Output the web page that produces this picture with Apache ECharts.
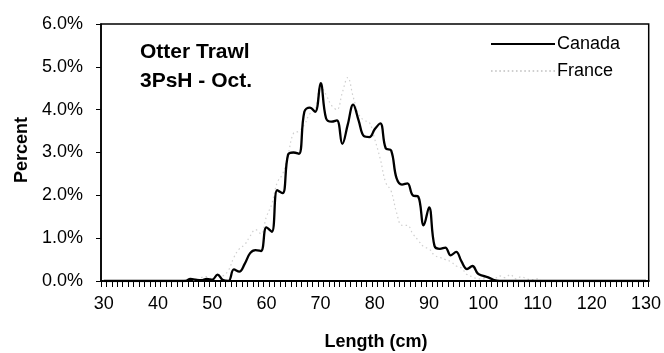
<!DOCTYPE html>
<html>
<head>
<meta charset="utf-8">
<script src="https://cdn.jsdelivr.net/npm/echarts@6/dist/echarts.min.js"></script>
<style>
html,body{margin:0;padding:0;background:#fff;}
#chart{width:664px;height:353px;}
</style>
</head>
<body>
<div id="chart"></div>
<script>
// Length categories (cm)
const lengths = [
  30,31,32,33,34,35,36,37,38,39,40,41,42,43,44,45,46,47,48,49,
  50,51,52,53,54,55,56,57,58,59,60,61,62,63,64,65,66,67,68,69,
  70,71,72,73,74,75,76,77,78,79,80,81,82,83,84,85,86,87,88,89,
  90,91,92,93,94,95,96,97,98,99,100,101,102,103,104,105,106,107,108,109,
  110,111,112,113,114,115,116,117,118,119,120,121,122,123,124,125,126,127,128,129,130
];
// Percent at length, Canada
const canada = [
  0,0,0,0,0,0,0,0,0,0,0,0,0,0,0,
  0,0.05,0.03,0.02,0.05,           // 45-49
  0.03,0.15,0.02,0,0.27,0.22,0.4,0.65,0.72,0.7,   // 50-59
  1.25,1.15,2.12,2.05,2.95,3.0,2.97,3.95,4.05,3.95, // 60-69
  4.62,3.8,3.72,3.75,3.2,3.65,4.12,3.75,3.38,3.36,  // 70-79
  3.55,3.68,3.1,3.05,2.4,2.25,2.28,2.0,1.97,1.3,    // 80-89
  1.72,0.82,0.75,0.78,0.6,0.68,0.45,0.28,0.35,0.17, // 90-99
  0.12,0.08,0.02,                                    // 100-102
  0,0,0,0,0,0,0,0,0,0,0,0,0,0,0,0,0,0,0,0,0,0,0,0,0,0,0,0
];
// Percent at length, France
const france = [
  0,0,0,0,0,0,0,0,0,0,0,0,0,0,0,
  0.02,0.05,0,0.08,0.1,                              // 45-49
  0.05,0.1,0.12,0.25,0.55,0.75,0.85,1.05,1.2,1.1,    // 50-59
  1.5,1.8,2.3,2.5,2.95,3.45,3.5,3.65,3.9,4.0,        // 60-69
  4.55,4.35,4.1,4.0,4.4,4.75,4.3,3.9,3.75,3.7,       // 70-79
  3.3,2.85,2.3,2.1,1.6,1.3,1.3,1.1,0.95,0.8,         // 80-89
  0.75,0.6,0.55,0.5,0.45,0.35,0.3,0.15,0.1,0.05,     // 90-99
  0.05,0.1,0.05,0.12,0.08,0.15,0.05,0.1,0.05,0.03,   // 100-109
  0.05,                                              // 110
  0,0,0,0,0,0,0,0,0,0,0,0,0,0,0,0,0,0,0,0
];
const yTicks = [0,1,2,3,4,5,6];

const FONT = '"Liberation Sans", Arial, sans-serif';
const FRANCE_COLOR = '#cfcfcf';
// legend glyphs: solid bar and dotted bar
const solidIcon = 'path://M0,0L64,0L64,2L0,2Z';
let dotted = '';
for (let i = 0; i < 16; i++) { dotted += 'M' + (i*4) + ',0h1.5v2h-1.5z'; }
const dottedIcon = 'path://' + dotted;

const chart = echarts.init(document.getElementById('chart'), null, {renderer:'canvas'});
chart.setOption({
  animation: false,
  backgroundColor: '#fff',
  textStyle: {fontFamily: FONT, color: '#000'},
  grid: {left: 101, right: 13, top: 24, bottom: 72, show: true, borderColor: '#000', borderWidth: 1.5, containLabel: false},
  legend: {
    orient: 'vertical', left: 491, top: 35, padding: 0, itemWidth: 64, itemHeight: 2, itemGap: 9,
    symbolKeepAspect: false,
    textStyle: {fontFamily: FONT, fontSize: 18, color: '#000', padding: [0,0,0,-3]},
    data: [
      {name: 'Canada', icon: solidIcon},
      {name: 'France', icon: dottedIcon}
    ]
  },
  xAxis: {
    type: 'category', data: lengths, boundaryGap: true,
    axisLine: {lineStyle: {color: '#000', width: 2}},
    axisTick: {show: true, interval: 0, length: 6, lineStyle: {color: '#000', width: 1}},
    axisLabel: {interval: 9, margin: 14, fontSize: 18, fontFamily: FONT, color: '#000'},
    splitLine: {show: false}
  },
  yAxis: {
    type: 'value', min: yTicks[0], max: yTicks[yTicks.length-1], interval: 1,
    axisLine: {show: true, lineStyle: {color: '#000', width: 1.5}},
    axisTick: {show: true, length: 5, lineStyle: {color: '#000'}},
    axisLabel: {margin: 18, fontSize: 18, fontFamily: FONT, color: '#000', formatter: v => v.toFixed(1) + '%'},
    splitLine: {show: false}
  },
  series: [
    {name: 'France', type: 'line', data: france, smooth: 0.4, symbol: 'none', z: 2,
     lineStyle: {color: FRANCE_COLOR, width: 1.2, type: [1.5, 3]}, itemStyle: {color: FRANCE_COLOR}},
    {name: 'Canada', type: 'line', data: canada, smooth: 0.4, symbol: 'none', z: 3,
     lineStyle: {color: '#000', width: 2.3}, itemStyle: {color: '#000'}}
  ],
  graphic: [
    {type: 'text', left: 140, top: 42, style: {text: 'Otter Trawl', font: 'bold 21px ' + FONT, fill: '#000'}},
    {type: 'text', left: 140, top: 71, style: {text: '3PsH - Oct.', font: 'bold 21px ' + FONT, fill: '#000'}},
    {type: 'text', x: 22, y: 150, rotation: Math.PI/2, style: {text: 'Percent', font: 'bold 18px ' + FONT, fill: '#000', textAlign: 'center', textVerticalAlign: 'middle'}},
    {type: 'text', x: 376, y: 342, style: {text: 'Length (cm)', font: 'bold 18px ' + FONT, fill: '#000', textAlign: 'center', textVerticalAlign: 'middle'}}
  ]
});
</script>
</body>
</html>
